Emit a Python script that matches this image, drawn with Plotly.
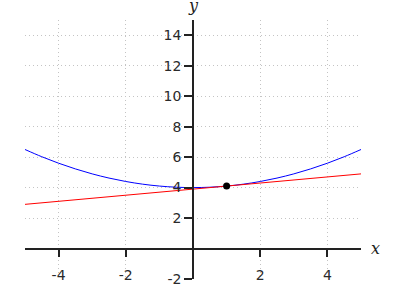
import plotly.graph_objects as go

curve_x = [-5, -4.5, -4, -3.5, -3, -2.5, -2, -1.5, -1, -0.5, 0, 0.5, 1, 1.5, 2, 2.5, 3, 3.5, 4, 4.5, 5]
curve_y = [6.5, 6.025, 5.6, 5.225, 4.9, 4.625, 4.4, 4.225, 4.1, 4.025, 4.0, 4.025, 4.1, 4.225, 4.4, 4.625, 4.9, 5.225, 5.6, 6.025, 6.5]
tangent_x = [-5, 5]
tangent_y = [2.9, 4.9]
point_x = [1]
point_y = [4.1]
x_ticks = [-4, -2, 2, 4]
x_labels = ["-4", "-2", "2", "4"]
y_ticks = [-2, 2, 4, 6, 8, 10, 12, 14]
y_labels = ["-2", "2", "4", "6", "8", "10", "12", "14"]
x_range = [-5, 5]
y_range = [-2, 15]

fig = go.Figure()
fig.add_trace(go.Scatter(x=curve_x, y=curve_y, mode="lines", line=dict(color="blue", width=1, shape="spline")))
fig.add_trace(go.Scatter(x=tangent_x, y=tangent_y, mode="lines", line=dict(color="red", width=1)))
fig.add_trace(go.Scatter(x=point_x, y=point_y, mode="markers", marker=dict(color="black", size=7)))

xpos = (0 - y_range[0]) / (y_range[1] - y_range[0])
ypos = (0 - x_range[0]) / (x_range[1] - x_range[0])

fig.update_layout(
    width=400, height=300,
    margin=dict(l=25, r=39, t=20, b=21),
    paper_bgcolor="white", plot_bgcolor="white",
    showlegend=False,
    font=dict(family="DejaVu Sans", size=14, color="#2a2a2a"),
    xaxis=dict(range=x_range, tickvals=x_ticks, ticktext=x_labels, showgrid=True, gridcolor="#c4c4c4",
               griddash="1px,3px", gridwidth=1,
               zeroline=False, showline=True, linecolor="#222", linewidth=1.5,
               ticks="outside", ticklen=8, tickcolor="#222", tickwidth=1.5,
               anchor="free", position=xpos, ticklabelstandoff=6),
    yaxis=dict(range=y_range, tickvals=y_ticks, ticktext=y_labels, showgrid=True, gridcolor="#c4c4c4",
               griddash="1px,3px", gridwidth=1,
               zeroline=False, showline=True, linecolor="#222", linewidth=1.5,
               ticks="outside", ticklen=8, tickcolor="#222", tickwidth=1.5,
               anchor="free", position=ypos),
    annotations=[
        dict(text="x", x=1.0, y=xpos, xref="paper", yref="paper", xanchor="left", yanchor="middle", xshift=8,
             showarrow=False, font=dict(family="DejaVu Serif", size=16, color="#222", style="italic")),
        dict(text="y", x=ypos, y=1.0, xref="paper", yref="paper", xanchor="center", yanchor="bottom", yshift=3,
             showarrow=False, font=dict(family="DejaVu Serif", size=16, color="#222", style="italic")),
    ],
)

fig.write_html("out.html")
